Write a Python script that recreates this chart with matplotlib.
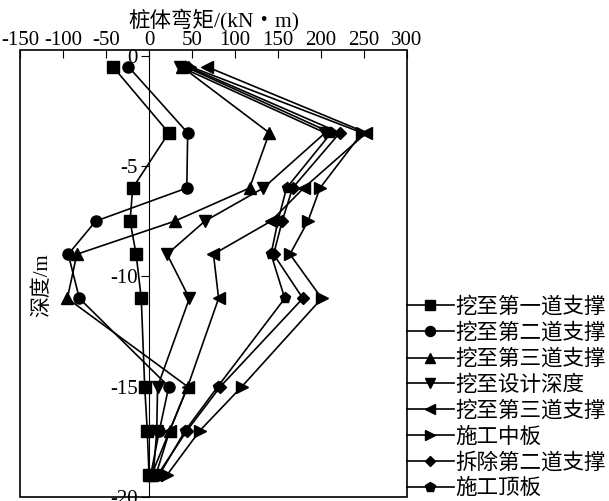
"""Pile bending moment vs depth for each construction stage."""
import matplotlib
matplotlib.use("Agg")
import matplotlib.pyplot as plt
from matplotlib.patches import Rectangle

plt.rcParams["font.family"] = ["Liberation Serif", "Noto Sans CJK SC"]
plt.rcParams["axes.unicode_minus"] = False

depth = [-0.5, -3.5, -6, -7.5, -9, -11, -15, -17, -19]

stage1 = [-42, 23, -19, -22, -15, -9, -5, -2, 0]
stage2 = [-24, 45, 44, -62, -94, -81, 23, 12, 2]
stage3 = [38, 140, 117, 30, -84, -95, 45, 24, 3]
stage4 = [36, 205, 133, 65, 21, 47, 10, 9, 5]
stage5 = [67, 253, 180, 142, 75, 81, 45, 24, 8]
stage6 = [48, 248, 199, 185, 164, 201, 108, 59, 21]
stage7 = [45, 222, 167, 155, 145, 179, 83, 44, 10]
stage8 = [42, 212, 160, 150, 142, 158, 80, 42, 12]

labels = ["挖至第一道支撑", "挖至第二道支撑", "挖至第三道支撑", "挖至设计深度",
          "挖至第三道支撑", "施工中板", "拆除第二道支撑", "施工顶板"]
markers = ["s", "o", "^", "v", "<", ">", "D", "p"]
xticks = [-150, -100, -50, 0, 50, 100, 150, 200, 250, 300]
yticks = [0, -5, -10, -15, -20]


def main() -> None:
    fig = plt.figure(figsize=(6.09, 5.01), dpi=100)
    ax = fig.add_axes([0.033, 0.008, 0.635, 0.892])

    series = [stage1, stage2, stage3, stage4, stage5, stage6, stage7, stage8]
    for vals, mk, lab in zip(series, markers, labels):
        ms = 6 if mk == "D" else 8
        ax.plot(vals, depth, color="black", lw=1.2, marker=mk, ms=ms, label=lab)

    ax.set_xlim(-150, 300)
    ax.set_ylim(-20, 0.25)
    ax.set_xticks(xticks)
    ax.set_xticklabels([str(v) for v in xticks])
    ax.set_yticks(yticks)
    ax.set_yticklabels([str(v) for v in yticks])

    ax.xaxis.tick_top()
    ax.xaxis.set_label_position("top")
    ax.set_xlabel("桩体弯矩/(kN・m)", fontsize=15.5, labelpad=3)
    ax.tick_params(axis="x", direction="in", length=6, labelsize=15, pad=0)
    ax.tick_params(axis="y", direction="out", length=6, labelsize=15, pad=2)

    # y axis sits on the zero line, box drawn round the plot
    ax.spines["left"].set_position(("data", 0))
    ax.spines["right"].set_visible(False)
    ax.spines["top"].set_visible(False)
    ax.spines["bottom"].set_visible(False)
    ax.add_patch(Rectangle((0, 0), 1, 1, transform=ax.transAxes, fill=False,
                           lw=1.2, color="black", clip_on=False))

    ax.text(0.057, 0.474, "深度/m", transform=ax.transAxes, rotation=90,
            ha="center", va="center", fontsize=15)

    ax.legend(loc="lower left", bbox_to_anchor=(1.0, -0.005), frameon=False,
              fontsize=15.5, handlelength=2.2, handletextpad=0.05,
              borderaxespad=0, borderpad=0, labelspacing=0.25, markerscale=0.9)

    fig.savefig("out.png", dpi=100)
    plt.close(fig)


if __name__ == "__main__":
    main()
